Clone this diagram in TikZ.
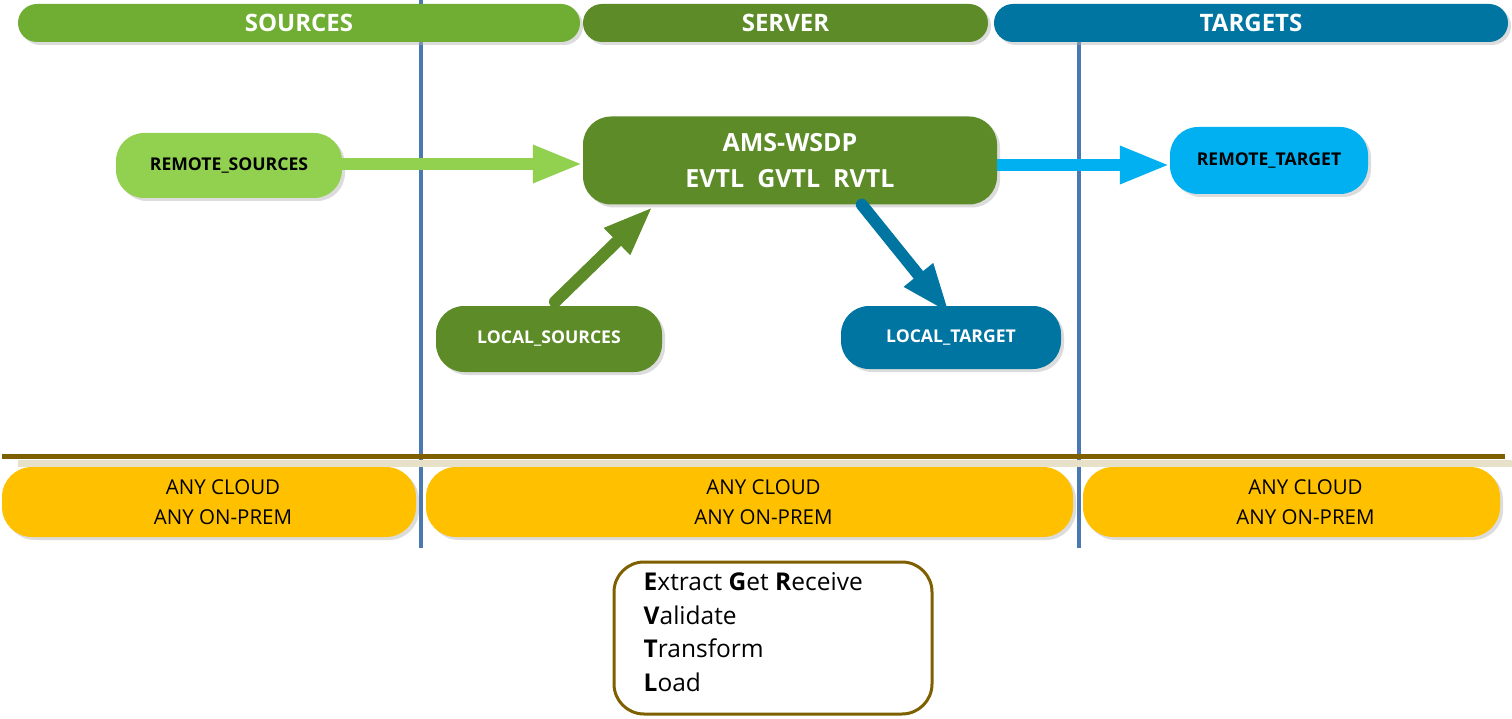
\documentclass[tikz,border=0pt]{standalone}
\usepackage{fontspec}
\setmainfont{Open Sans}
\usetikzlibrary{arrows.meta,shadows,calc}
\definecolor{lgreen}{HTML}{92D050}
\definecolor{mgreen}{HTML}{70AD33}
\definecolor{dgreen}{HTML}{5C8B28}
\definecolor{dblue}{HTML}{0075A2}
\definecolor{lblue}{HTML}{00B0F0}
\definecolor{vblue}{HTML}{4A78B0}
\definecolor{brownline}{HTML}{7F6000}
\definecolor{beige}{HTML}{E6E1C8}
\definecolor{ambr}{HTML}{FFC000}
\begin{document}
\begin{tikzpicture}[x=1pt,y=-1pt,
  sh/.style={drop shadow={shadow xshift=3pt,shadow yshift=-3pt,fill=black!30,opacity=0.45}},
  hdr/.style={rounded corners=19pt, minimum height=38pt, inner sep=0pt, text=white,
    font=\fontsize{24}{28}\selectfont\bfseries, sh},
  pill/.style={rounded corners=28pt, inner sep=0pt, font=\fontsize{17.6}{21}\selectfont\bfseries, sh},
  ybox/.style={fill=ambr, rounded corners=30pt, inner sep=0pt, minimum height=70pt, sh},
  ytext/.style={align=center, inner sep=0pt, font=\fontsize{20.5}{30}\selectfont},
  vline/.style={draw=vblue, line width=3.5pt},
  harrow/.style={line width=12pt, -{Triangle[length=50pt,width=35pt]}},
  darrow/.style={line width=12pt, line cap=round, -{Triangle[length=50pt,width=34pt]}}
]
\fill[white] (0,0) rectangle (1512,719);
\useasboundingbox (0,0) rectangle (1512,719);

% vertical separators
\draw[vline] (421,0) -- (421,548);
\draw[vline] (1079,42) -- (1079,548);

% headers
\node[hdr, fill=mgreen, minimum width=562pt] (hs) at (299,23) {SOURCES};
\node[hdr, fill=dgreen, minimum width=405pt] (hv) at (785.5,23) {SERVER};
\node[hdr, fill=dblue, minimum width=514pt] (ht) at (1251,23) {TARGETS};

% main nodes
\node[pill, fill=lgreen, minimum width=226pt, minimum height=65pt] (rs) at (229,165.5) {REMOTE\_SOURCES};
\node[pill, fill=dgreen, text=white, minimum width=414pt, minimum height=88pt, align=center,
  font=\fontsize{25}{36}\selectfont\bfseries] (ams) at (790,160.5) {AMS-WSDP\\EVTL\ \ GVTL\ \ RVTL};
\node[pill, fill=lblue, minimum width=198pt, minimum height=67pt] (rt) at (1269,160.5) {REMOTE\_TARGET};
\node[pill, fill=dgreen, text=white, minimum width=226pt, minimum height=66pt] (ls) at (549,339) {LOCAL\_SOURCES};
\node[pill, fill=dblue, text=white, minimum width=220pt, minimum height=63pt] (lt) at (951,337.5) {LOCAL\_TARGET};

% connectors
\draw[harrow, draw=lgreen, fill=lgreen] (rs.east |- 0,164) -- (ams.west |- 0,164);
\draw[harrow, draw=lblue, fill=lblue] (ams.east |- 0,165) -- (rt.west |- 0,165);
\draw[darrow, draw=dgreen, fill=dgreen] ([shift={(6,-4)}]ls.north) -- ([shift={(70,2)}]ams.south west);
\draw[darrow, draw=dblue, fill=dblue] ([shift={(279,0)}]ams.south west) -- ([shift={(109,8)}]lt.north west);

% horizontal separator
\fill[beige] (18,460) rectangle (1512,467);
\draw[draw=brownline, line width=5pt] (2,456.5) -- (1505,456.5);

% platform boxes
\node[ybox, minimum width=414pt] (y1) at (209,502) {};
\node[ybox, minimum width=647pt] (y2) at (749.5,502) {};
\node[ybox, minimum width=417pt] (y3) at (1291.5,502) {};
\node[ytext] (y1t) at ([xshift=14pt]y1.center) {ANY CLOUD\\ANY ON-PREM};
\node[ytext] (y2t) at ([xshift=14pt]y2.center) {ANY CLOUD\\ANY ON-PREM};
\node[ytext] (y3t) at ([xshift=14pt]y3.center) {ANY CLOUD\\ANY ON-PREM};

% legend box
\node[draw=brownline, line width=3pt, fill=white, rounded corners=30pt, minimum width=318pt,
  minimum height=152pt, inner sep=0pt] (ev) at (773,638) {};
\node[anchor=west, align=left, inner sep=0pt, font=\fontsize{24.5}{33.7}\selectfont] (evt)
  at ([xshift=31pt,yshift=6pt]ev.west)
  {\textbf{E}xtract \textbf{G}et \textbf{R}eceive\\\textbf{V}alidate\\\textbf{T}ransform\\\textbf{L}oad};
\end{tikzpicture}
\end{document}
